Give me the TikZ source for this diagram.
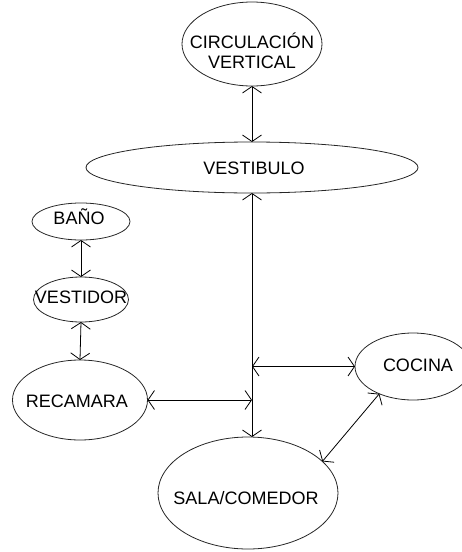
\documentclass[tikz,border=0pt]{standalone}
\usepackage{fontspec}
\setmainfont{Liberation Sans}
\usetikzlibrary{shapes.geometric,arrows.meta}

\tikzset{
  room/.style={ellipse, draw=black!85, line width=0.8pt, inner sep=0pt, outer sep=0pt},
  lbl/.style={inner sep=0pt, font=\fontsize{18}{19.5}\selectfont, text height=13pt, text depth=0pt},
  lbl2/.style={inner sep=0pt, font=\fontsize{18}{19.5}\selectfont, align=center},
  barb/.tip={Straight Barb[length=6.5pt,width=19pt]},
  conn/.style={draw=black, line width=0.8pt, barb-barb}
}

\begin{document}
\begin{tikzpicture}[x=1pt, y=-1pt]
  \useasboundingbox (0,0) rectangle (462,552);

  % rooms
  \node[room, minimum width=140pt, minimum height=84pt]  (circ)     at (252,44)    {};
  \node[room, minimum width=332pt, minimum height=51pt]  (vest)     at (252,167.5) {};
  \node[room, minimum width=98pt,  minimum height=37pt]  (bano)     at (81,221.5)  {};
  \node[room, minimum width=95pt,  minimum height=45pt]  (vestidor) at (81,299.5)  {};
  \node[room, minimum width=135pt, minimum height=80pt]  (recamara) at (80,400)    {};
  \node[room, minimum width=116pt, minimum height=67pt]  (cocina)   at (413,366.5) {};
  \node[room, minimum width=180pt, minimum height=112pt] (sala)     at (248,493)   {};

  % room names
  \node[lbl2] (t-circ)     at (252,51)  {CIRCULACIÓN\\VERTICAL};
  \node[lbl]  (t-vest)     at (254,168) {VESTIBULO};
  \node[lbl]  (t-bano)     at (79,218)  {BAÑO};
  \node[lbl]  (t-vestidor) at (81,297)  {VESTIDOR};
  \node[lbl]  (t-recamara) at (77,401)  {RECAMARA};
  \node[lbl]  (t-cocina)   at (418,365) {COCINA};
  \node[lbl]  (t-sala)     at (246,498) {SALA/COMEDOR};

  % junctions on the main hall line
  \coordinate (j1) at (vest.south |- cocina.west);
  \coordinate (j2) at (vest.south |- recamara.east);

  % connections
  \draw[conn] (circ.south) -- (vest.north);
  \draw[conn] (vest.south) -- (vest.south |- sala.north);
  \draw[conn] (bano.south) -- (vestidor.north);
  \draw[conn] (vestidor.south) -- (recamara.north);
  \draw[conn] (j1) -- (cocina.west);
  \draw[conn] (recamara.east) -- (j2);
  \draw[conn] (cocina.219) -- (sala.23);
\end{tikzpicture}
\end{document}
